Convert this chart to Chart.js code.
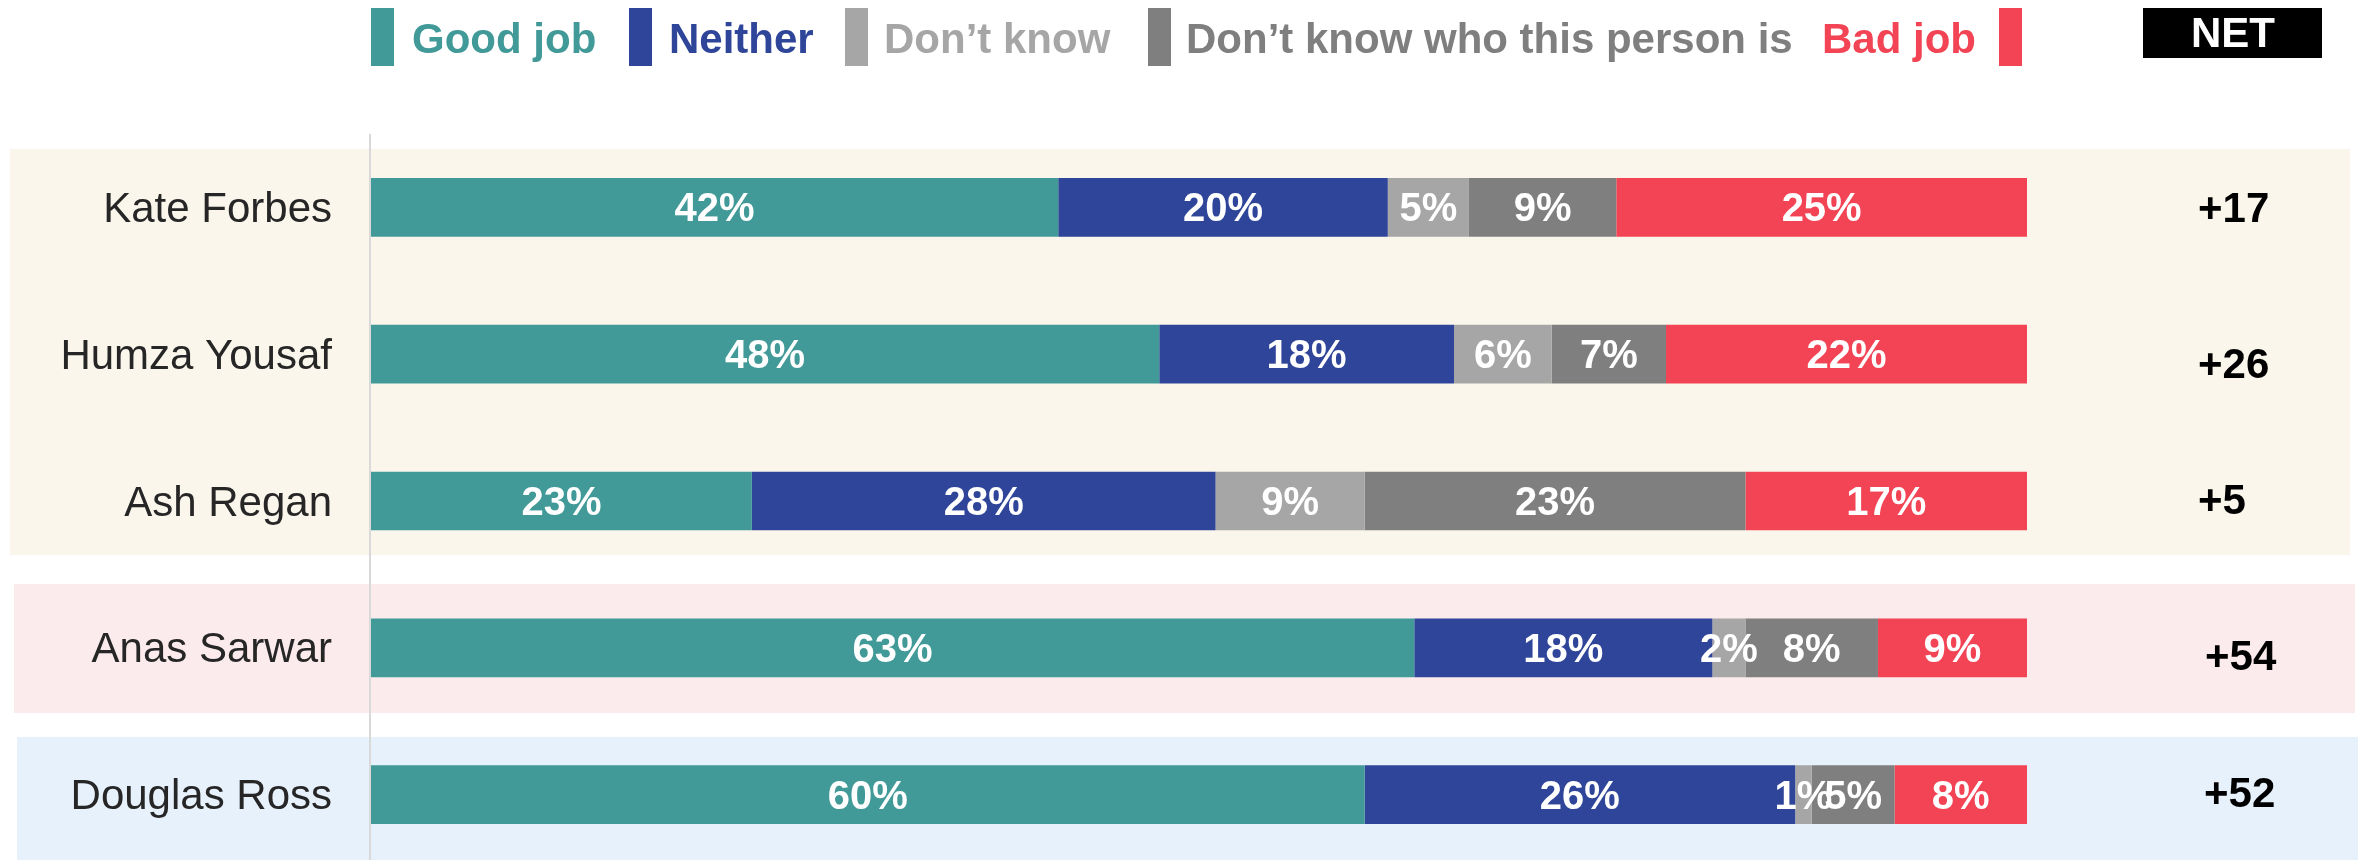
<!DOCTYPE html>
<html>
<head>
<meta charset="utf-8">
<script src="https://cdn.jsdelivr.net/npm/chart.js@4/dist/chart.umd.min.js"></script>
<style>
  html, body { margin:0; padding:0; background:#fff; overflow:hidden; }
  canvas { display:block; }
</style>
</head>
<body>
<canvas id="chart" width="2358" height="868"></canvas>
<script>
const categories = ["Kate Forbes", "Humza Yousaf", "Ash Regan", "Anas Sarwar", "Douglas Ross"];
const goodJob = [41.5, 47.6, 23.0, 63.0, 60.0];
const neither = [19.9, 17.8, 28.0, 18.0, 26.0];
const dontKnow = [4.9, 5.9, 9.0, 2.0, 1.0];
const dontKnowPerson = [8.9, 6.9, 23.0, 8.0, 5.0];
const badJob = [24.8, 21.8, 17.0, 9.0, 8.0];
const netScores = ["+17", "+26", "+5", "+54", "+52"];

const FONT = "'Liberation Sans', Arial, sans-serif";
const colors = ["#429A98", "#2F4599", "#A6A6A6", "#7F7F7F", "#F24455"];

const decor = {
  id: "decor",
  beforeDraw(chart) {
    const ctx = chart.ctx;
    ctx.save();
    ctx.fillStyle = "#fff";
    ctx.fillRect(0, 0, chart.width, chart.height);
    // party bands
    ctx.fillStyle = "#FAF6EB"; ctx.fillRect(10, 149, 2340, 406);
    ctx.fillStyle = "#FCEBEC"; ctx.fillRect(14, 584, 2341, 129);
    ctx.fillStyle = "#E7F1FC"; ctx.fillRect(17, 737, 2341, 140);
    ctx.restore();
  },
  beforeDatasetsDraw(chart) {
    const ctx = chart.ctx;
    ctx.save();
    ctx.strokeStyle = "#D9D9D9";
    ctx.lineWidth = 2;
    ctx.beginPath();
    ctx.moveTo(370, 134);
    ctx.lineTo(370, chart.height);
    ctx.stroke();
    ctx.restore();
  },
  afterDatasetsDraw(chart) {
    const ctx = chart.ctx;
    ctx.save();
    ctx.fillStyle = "#fff";
    ctx.font = "bold 40px " + FONT;
    ctx.textAlign = "center";
    ctx.textBaseline = "middle";
    chart.data.datasets.forEach((ds, di) => {
      chart.getDatasetMeta(di).data.forEach((bar, i) => {
        const x = (bar.x + bar.base) / 2;
        ctx.fillText(Math.round(ds.data[i]) + "%", x, bar.y + 3);
      });
    });
    ctx.restore();
  },
  afterDraw(chart) {
    const ctx = chart.ctx;
    ctx.save();
    // legend
    ctx.font = "bold 42px " + FONT;
    ctx.textBaseline = "alphabetic";
    ctx.textAlign = "left";
    const spots = [[371, 412], [629, 669], [845, 884], [1148, 1186], [1999, 1822]];
    chart.data.datasets.forEach((ds, i) => {
      const [bx, tx] = spots[i];
      ctx.fillStyle = colors[i];
      ctx.fillRect(bx, 8, 23, 58);
      ctx.fillText(ds.label, tx, 53);
    });
    // NET header
    ctx.fillStyle = "#000";
    ctx.fillRect(2143, 8, 179, 50);
    ctx.fillStyle = "#fff";
    ctx.font = "bold 42px " + FONT;
    ctx.textAlign = "center";
    ctx.textBaseline = "middle";
    ctx.fillText("NET", 2233, 35);
    // NET values
    const y = chart.scales.y;
    const shiftY = [3, 12, 1, 11, 1];
    const leftX = [2198, 2198, 2198, 2205, 2204];
    ctx.fillStyle = "#000";
    ctx.font = "bold 42px " + FONT;
    ctx.textAlign = "left";
    netScores.forEach((t, i) => {
      ctx.fillText(t, leftX[i], y.getPixelForValue(i) + shiftY[i]);
    });
    ctx.restore();
  }
};

new Chart(document.getElementById("chart").getContext("2d"), {
  type: "bar",
  data: {
    labels: categories,
    datasets: [
      { label:"Good job", data:goodJob, backgroundColor:colors[0] },
      { label:"Neither", data:neither, backgroundColor:colors[1] },
      { label:"Don\u2019t know", data:dontKnow, backgroundColor:colors[2] },
      { label:"Don\u2019t know who this person is", data:dontKnowPerson, backgroundColor:colors[3] },
      { label:"Bad job", data:badJob, backgroundColor:colors[4] }
    ]
  },
  options: {
    indexAxis: "y",
    responsive: false,
    animation: false,
    devicePixelRatio: 1,
    layout: { padding: { top:134, right:331, bottom:0, left:0 } },
    datasets: { bar: { categoryPercentage:1, barPercentage:0.4, borderWidth:0 } },
    plugins: { legend:{ display:false }, tooltip:{ enabled:false } },
    scales: {
      x: { stacked:true, min:0, max:100, display:false },
      y: {
        stacked:true,
        grid: { display:false, drawTicks:false },
        border: { display:false },
        ticks: { color:"#262626", padding:39, labelOffset:3, font:{ size:42, family:FONT } },
        afterFit: s => { s.width = 371; s.paddingTop = 0; s.paddingBottom = 0; }
      }
    }
  },
  plugins: [decor]
});
</script>
</body>
</html>
